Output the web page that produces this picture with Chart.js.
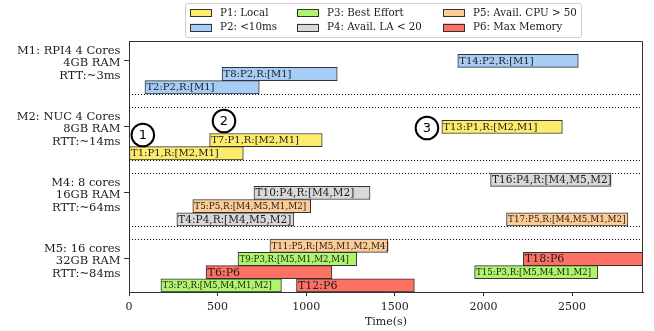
<!DOCTYPE html>
<html>
<head>
<meta charset="utf-8">
<script src="https://cdn.jsdelivr.net/npm/chart.js@4/dist/chart.umd.min.js"></script>
<style>
  html, body { margin: 0; padding: 0; background: #fff; }
  #c { display: block; }
</style>
</head>
<body>
<canvas id="c" width="654" height="331"></canvas>
<script>
// ---- machines (y groups) ----
const machineIds = ['M1', 'M2', 'M4', 'M5'];
const machineLabels = [
  ['M1: RPI4 4 Cores', '4GB RAM', 'RTT:~3ms'],
  ['M2: NUC 4 Cores', '8GB RAM', 'RTT:~14ms'],
  ['M4: 8 cores', '16GB RAM', 'RTT:~64ms'],
  ['M5: 16 cores', '32GB RAM', 'RTT:~84ms']
];
const slotsPerMachine = 4;

// ---- tasks ----
const taskIds      = ['T1','T2','T3','T4','T5','T6','T7','T8','T9','T10','T11','T12','T13','T14','T15','T16','T17','T18'];
const taskPriority = ['P1','P2','P3','P4','P5','P6','P1','P2','P3','P4','P5','P6','P1','P2','P3','P4','P5','P6'];
const taskMachine  = ['M2','M1','M5','M4','M4','M5','M2','M1','M5','M4','M5','M5','M2','M1','M5','M4','M4','M5'];
const taskSlot     = [0, 0, 0, 0, 1, 1, 1, 1, 2, 2, 3, 0, 2, 2, 1, 3, 0, 2];
const taskStart    = [0, 90, 180, 270, 360, 435, 455, 525, 615, 705, 795, 945, 1765, 1855, 1950, 2040, 2130, 2225];
const taskEnd      = [645, 735, 860, 930, 1025, 1145, 1090, 1175, 1285, 1360, 1460, 1610, 2445, 2535, 2645, 2720, 2815, 2900];
const taskReplicas = [
  ['M2','M1'], ['M1'], ['M5','M4','M1','M2'], ['M4','M5','M2'], ['M4','M5','M1','M2'], [],
  ['M2','M1'], ['M1'], ['M5','M1','M2','M4'], ['M4','M2'], ['M5','M1','M2','M4'], [],
  ['M2','M1'], ['M1'], ['M5','M4','M1','M2'], ['M4','M5','M2'], ['M4','M5','M1','M2'], []
];

// ---- priorities (legend) ----
const priorityIds   = ['P1','P2','P3','P4','P5','P6'];
const priorityNames = ['Local', '<10ms', 'Best Effort', 'Avail. LA < 20', 'Avail. CPU > 50', 'Max Memory'];

// ---- x axis ----
const timeMin = 0, timeMax = 2900;
const timeTicks = [0, 500, 1000, 1500, 2000, 2500];

// ---- numbered markers ----
const markerText = ['1', '2', '3'];
const markerTime = [78, 536, 1681];
const markerRow  = [6.62, 5.56, 6.09];

// ---- styles ----
const priorityColor = { P1: '#fdec6b', P2: '#a7cdf7', P3: '#aef56c', P4: '#d9d9d9', P5: '#fdcc96', P6: '#fd7164' };
const labelSize     = { P1: 10, P2: 10, P3: 8.6, P4: 10.5, P5: 8.8, P6: 11 };
const SERIF = "'DejaVu Serif', serif";
const INK = '#1c1c1c';
const EDGE = '#333333';

// category rows, top to bottom: each machine has 4 slots (3 at top), one spacer row between machines
const rowKeys = [];
const rowTickLabel = [];
const spacerRows = [];
machineIds.forEach((m, mi) => {
  for (let s = slotsPerMachine - 1; s >= 0; s--) {
    rowKeys.push(m + '/' + s);
    rowTickLabel.push(s === 2 ? machineLabels[mi] : '');
  }
  if (mi < machineIds.length - 1) {
    spacerRows.push(rowKeys.length);
    rowKeys.push('gap' + mi);
    rowTickLabel.push('');
  }
});

function taskLabel(i) {
  const head = taskIds[i] + ':' + taskPriority[i];
  return taskReplicas[i].length ? head + ',R:[' + taskReplicas[i].join(',') + ']' : head;
}

const datasets = taskIds.map((id, i) => ({
  label: id,
  data: [{ x: [taskStart[i], taskEnd[i]], y: taskMachine[i] + '/' + taskSlot[i] }],
  backgroundColor: priorityColor[taskPriority[i]],
  borderColor: EDGE,
  borderWidth: 1,
  borderSkipped: false,
  grouped: false,
  barPercentage: 1,
  categoryPercentage: 1
}));

// dotted separators around the spacer rows
const separators = {
  id: 'separators',
  beforeDatasetsDraw(chart) {
    const { ctx, chartArea: a, scales: { y } } = chart;
    ctx.save();
    ctx.strokeStyle = '#111';
    ctx.lineWidth = 1.1;
    ctx.setLineDash([1.1, 1.9]);
    spacerRows.forEach(r => {
      [r - 0.5, r + 0.5].forEach(v => {
        const py = Math.round(y.getPixelForValue(v)) + 0.5;
        ctx.beginPath();
        ctx.moveTo(a.left, py);
        ctx.lineTo(a.right, py);
        ctx.stroke();
      });
    });
    ctx.restore();
  }
};

// task texts, numbered markers and the top/right frame
const overlays = {
  id: 'overlays',
  afterDatasetsDraw(chart) {
    const { ctx, chartArea: a, scales: { x, y } } = chart;
    ctx.save();
    ctx.beginPath();
    ctx.rect(a.left, a.top, a.right - a.left, a.bottom - a.top);
    ctx.clip();
    ctx.fillStyle = INK;
    ctx.textAlign = 'left';
    ctx.textBaseline = 'middle';
    taskIds.forEach((id, i) => {
      const el = chart.getDatasetMeta(i).data[0];
      const left = Math.min(el.x, el.base);
      ctx.font = labelSize[taskPriority[i]] + 'px ' + SERIF;
      ctx.fillText(taskLabel(i), left + 1.5, el.y + 0.5);
    });
    ctx.restore();

    ctx.save();
    markerText.forEach((t, i) => {
      const cx = x.getPixelForValue(markerTime[i]);
      const cy = y.getPixelForValue(markerRow[i]);
      ctx.beginPath();
      ctx.arc(cx, cy, 11.3, 0, Math.PI * 2);
      ctx.fillStyle = '#fff';
      ctx.fill();
      ctx.lineWidth = 2;
      ctx.strokeStyle = '#000';
      ctx.stroke();
      ctx.fillStyle = '#000';
      ctx.font = "13px 'DejaVu Sans', sans-serif";
      ctx.textAlign = 'center';
      ctx.textBaseline = 'middle';
      ctx.fillText(t, cx, cy + 0.5);
    });
    ctx.strokeStyle = EDGE;
    ctx.lineWidth = 1;
    ctx.beginPath();
    ctx.moveTo(Math.round(a.left) + 0.5, Math.round(a.top) + 0.5);
    ctx.lineTo(Math.round(a.right) - 0.5, Math.round(a.top) + 0.5);
    ctx.lineTo(Math.round(a.right) - 0.5, Math.round(a.bottom));
    ctx.stroke();
    ctx.restore();
  }
};

// three-column legend above the plot
const columnLegend = {
  id: 'columnLegend',
  afterDraw(chart) {
    const { ctx } = chart;
    const box = { x: 185.5, y: 3.5, w: 396, h: 34 };
    const colX = [190, 297, 443];
    const rowY = [12.7, 27.3];
    ctx.save();
    ctx.beginPath();
    ctx.roundRect(box.x, box.y, box.w, box.h, 2.5);
    ctx.fillStyle = 'rgba(255,255,255,0.85)';
    ctx.fill();
    ctx.strokeStyle = '#d0d0d0';
    ctx.lineWidth = 1;
    ctx.stroke();
    ctx.font = '10.3px ' + SERIF;
    ctx.textBaseline = 'middle';
    ctx.textAlign = 'left';
    priorityIds.forEach((p, i) => {
      const cx = colX[Math.floor(i / 2)];
      const cy = rowY[i % 2];
      ctx.fillStyle = priorityColor[p];
      ctx.fillRect(cx, cy - 3.7, 21.5, 7.4);
      ctx.strokeStyle = EDGE;
      ctx.strokeRect(cx + 0.5, Math.round(cy - 3.7) + 0.5, 21, 7);
      ctx.fillStyle = INK;
      ctx.fillText(p + ': ' + priorityNames[i], cx + 30, cy + 0.5);
    });
    ctx.restore();
  }
};

new Chart(document.getElementById('c'), {
  type: 'bar',
  data: { labels: rowKeys, datasets },
  options: {
    responsive: false,
    animation: false,
    indexAxis: 'y',
    layout: { padding: { top: 41, right: 11, bottom: 0, left: 0 } },
    plugins: { legend: { display: false }, tooltip: { enabled: false } },
    scales: {
      x: {
        type: 'linear',
        min: timeMin,
        max: timeMax,
        afterFit(s) { s.height = 39; },
        afterBuildTicks(s) { s.ticks = timeTicks.map(v => ({ value: v })); },
        ticks: {
          color: INK,
          padding: 4.5,
          font: { family: SERIF, size: 11 },
          callback: v => String(v)
        },
        grid: { drawOnChartArea: false, drawTicks: true, tickLength: 4, color: EDGE },
        border: { display: true, color: EDGE, width: 1 },
        title: {
          display: true,
          text: 'Time(s)',
          color: INK,
          font: { family: SERIF, size: 11 },
          padding: { top: 0, bottom: 2 }
        }
      },
      y: {
        type: 'category',
        afterFit(s) { s.width = 129; },
        ticks: {
          autoSkip: false,
          color: INK,
          padding: 3.5,
          labelOffset: 2.5,
          font: { family: SERIF, size: 11.5, lineHeight: 1.1 },
          callback: (v, i) => rowTickLabel[i]
        },
        grid: {
          offset: false,
          drawOnChartArea: false,
          drawTicks: true,
          tickLength: 5,
          color: c => (c.tick && rowTickLabel[c.index] !== '') ? EDGE : 'rgba(0,0,0,0)'
        },
        border: { display: true, color: EDGE, width: 1 }
      }
    }
  },
  plugins: [separators, overlays, columnLegend]
});
</script>
</body>
</html>
